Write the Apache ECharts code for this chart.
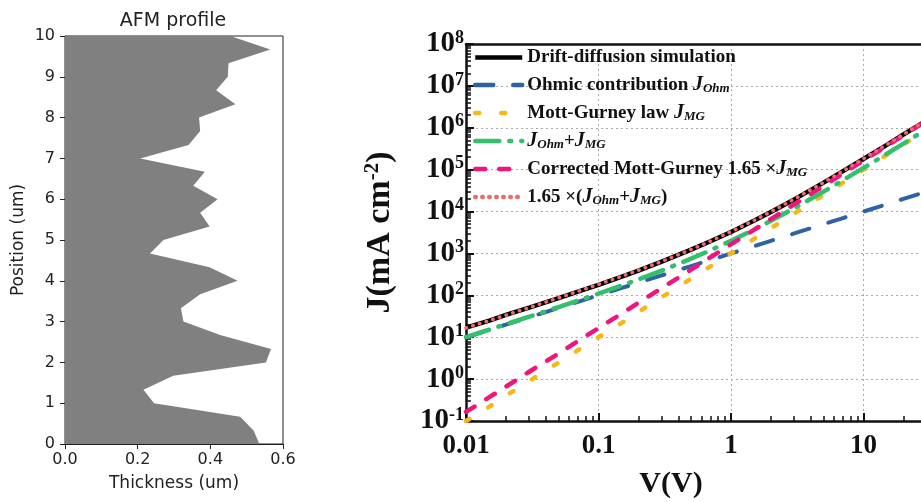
<!DOCTYPE html>
<html>
<head>
<meta charset="utf-8">
<script src="https://cdn.jsdelivr.net/npm/echarts@6/dist/echarts.min.js"></script>
<style>
  html, body { margin: 0; padding: 0; background: #fff; }
  #chart { width: 921px; height: 502px; }
</style>
</head>
<body>
<div id="chart"></div>
<script>
// AFM profile (left panel)
var position = [0, 0.33, 0.67, 1.0, 1.33, 1.67, 2.0, 2.33, 2.67, 3.0, 3.33, 3.67, 4.0, 4.33, 4.67, 5.0,
                5.33, 5.67, 6.0, 6.33, 6.67, 7.0, 7.33, 7.67, 8.0, 8.33, 8.67, 9.0, 9.33, 9.67, 10];
var thickness = [0.535, 0.519, 0.482, 0.245, 0.216, 0.298, 0.553, 0.567, 0.427, 0.326, 0.319, 0.372, 0.475, 0.398, 0.234, 0.271,
                 0.398, 0.372, 0.42, 0.353, 0.385, 0.207, 0.34, 0.372, 0.369, 0.469, 0.416, 0.448, 0.45, 0.565, 0.455];

// J-V curves (right panel)
var voltage = [0.01, 0.015, 0.02, 0.03, 0.05, 0.07, 0.1, 0.15, 0.2, 0.3, 0.5, 0.7, 1, 1.5, 2, 3, 5, 7, 10, 15, 20, 30, 50, 100];
var jDrift = [17, 25, 34, 51, 86, 122, 178, 280, 390, 640, 1230, 1950, 3250, 6100, 9800, 19500, 49000, 92000, 180000, 390000, 690000, 1500000, 4100000, 16500000];
var jOhm = [10, 15, 20, 30, 50, 70, 100, 150, 200, 300, 500, 700, 1000, 1500, 2000, 3000, 5000, 7000, 10000, 15000, 20000, 30000, 50000, 100000];
var jMG = [0.1, 0.22, 0.4, 0.9, 2.5, 4.9, 10, 22, 40, 90, 250, 490, 1000, 2250, 4000, 9000, 25000, 49000, 100000, 225000, 400000, 900000, 2500000, 10000000];
var jSum = [10.1, 15.2, 20.4, 30.9, 52.5, 75, 110, 172, 240, 390, 750, 1190, 2000, 3750, 6000, 12000, 30000, 56000, 110000, 240000, 420000, 930000, 2550000, 10100000];
var jMGc = [0.165, 0.37, 0.66, 1.5, 4.1, 8.1, 16.5, 37, 66, 149, 410, 810, 1650, 3700, 6600, 14900, 41000, 81000, 165000, 370000, 660000, 1490000, 4100000, 16500000];
var jSumc = [16.7, 25, 33.7, 51, 87, 124, 182, 285, 396, 644, 1240, 1960, 3300, 6190, 9900, 19800, 49500, 92400, 182000, 396000, 693000, 1530000, 4200000, 16700000];

var seriesNames = ['Drift-diffusion simulation', 'Ohmic contribution', 'Mott-Gurney law', 'JOhm+JMG',
                   'Corrected Mott-Gurney', '1.65 x (JOhm+JMG)'];
var legendText = {
  'Drift-diffusion simulation': '{b|Drift-diffusion simulation}',
  'Ohmic contribution': '{b|Ohmic contribution }{i|J}{s|Ohm}',
  'Mott-Gurney law': '{b|Mott-Gurney law }{i|J}{s|MG}',
  'JOhm+JMG': '{i|J}{s|Ohm}{b|+}{i|J}{s|MG}',
  'Corrected Mott-Gurney': '{b|Corrected Mott-Gurney 1.65 ×}{i|J}{s|MG}',
  '1.65 x (JOhm+JMG)': '{b|1.65 ×(}{i|J}{s|Ohm}{b|+}{i|J}{s|MG}{b|)}'
};

var serif = 'Liberation Serif';
var sans = 'DejaVu Sans';

function pairs(ys) {
  return voltage.map(function (v, i) { return [v, ys[i]]; });
}

// minor tick positions on log axes (in decade units)
function minorTicks(from, to) {
  var out = [];
  for (var d = from; d < to; d++) {
    for (var k = 2; k <= 9; k++) out.push(d + Math.log10(k));
  }
  return out;
}

var chart = echarts.init(document.getElementById('chart'), null, { renderer: 'canvas' });

var option = {
  animation: false,
  backgroundColor: '#fff',
  graphic: [
    { type: 'text', x: 173, y: 21, style: { text: 'AFM profile', font: '19px "DejaVu Sans"', fill: '#222', align: 'center', verticalAlign: 'middle' } },
    { type: 'text', x: 671, y: 484, style: { text: 'V(V)', font: 'bold 30px "Liberation Serif"', fill: '#111', align: 'center', verticalAlign: 'middle' } }
  ],
  legend: {
    orient: 'vertical',
    left: 473,
    top: 48,
    padding: 0,
    itemWidth: 47,
    itemHeight: 22,
    itemGap: 8,
    data: seriesNames,
    itemStyle: { opacity: 0 },
    lineStyle: { width: 4.5 },
    formatter: function (name) { return legendText[name]; },
    textStyle: {
      rich: {
        b: { fontFamily: serif, fontWeight: 'bold', fontSize: 19, lineHeight: 20, color: '#111' },
        i: { fontFamily: serif, fontWeight: 'bold', fontStyle: 'italic', fontSize: 20, lineHeight: 20, color: '#111' },
        s: { fontFamily: serif, fontWeight: 'bold', fontStyle: 'italic', fontSize: 13, lineHeight: 11, verticalAlign: 'bottom', color: '#111' }
      }
    }
  },
  grid: [
    { left: 65, top: 36, width: 218, height: 408, show: true, borderColor: '#222', borderWidth: 1, outerBoundsMode: 'none', containLabel: false },
    { left: 466, top: 44, width: 530, height: 377, outerBoundsMode: 'none', containLabel: false },
    { left: 466, top: 44, width: 530, height: 377, outerBoundsMode: 'none', containLabel: false }
  ],
  xAxis: [
    {
      gridIndex: 0, type: 'value', min: 0, max: 0.6, interval: 0.2,
      name: 'Thickness (um)', nameLocation: 'middle', nameGap: 31,
      nameTextStyle: { fontFamily: sans, fontSize: 17, color: '#222' },
      axisLine: { lineStyle: { color: '#222', width: 1 } },
      axisTick: { length: 5, lineStyle: { color: '#222' } },
      axisLabel: { fontFamily: sans, fontSize: 16, color: '#222', margin: 8,
        formatter: function (v) { return v.toFixed(1); } },
      splitLine: { show: false }
    },
    {
      gridIndex: 1, type: 'log', logBase: 10, min: 0.01, max: 100, interval: 1,
      axisLine: { onZero: false, lineStyle: { color: '#111', width: 2.5 } },
      axisTick: { inside: true, length: 8, lineStyle: { color: '#111', width: 2 } },
      axisLabel: { fontFamily: serif, fontWeight: 'bold', fontSize: 27, color: '#111', margin: 12,
        formatter: function (v) { return v >= 1 ? String(Math.round(v)) : String(+v.toPrecision(1)); } },
      splitLine: { show: true, lineStyle: { color: '#aaa', type: [2, 3], width: 1 } }
    },
    {
      gridIndex: 1, type: 'value', position: 'top', min: 0, max: 1,
      axisLine: { onZero: false, lineStyle: { color: '#111', width: 2.5 } },
      axisTick: { show: false }, axisLabel: { show: false }, splitLine: { show: false }
    },
    {
      gridIndex: 2, type: 'value', min: -2, max: 2, position: 'bottom',
      axisLine: { show: false, onZero: false },
      axisTick: { show: true, inside: true, length: 5, customValues: minorTicks(-2, 2), lineStyle: { color: '#111', width: 1.5 } },
      axisLabel: { show: false }, splitLine: { show: false }
    }
  ],
  yAxis: [
    {
      gridIndex: 0, type: 'value', min: 0, max: 10, interval: 1,
      name: 'Position (um)', nameLocation: 'middle', nameGap: 38,
      nameTextStyle: { fontFamily: sans, fontSize: 17, color: '#222' },
      axisLine: { lineStyle: { color: '#222', width: 1 } },
      axisTick: { length: 5, lineStyle: { color: '#222' } },
      axisLabel: { fontFamily: sans, fontSize: 16, color: '#222', margin: 10 },
      splitLine: { show: false }
    },
    {
      gridIndex: 1, type: 'log', logBase: 10, min: 0.1, max: 100000000, interval: 1,
      name: '{b|J(mA cm}{s|-2}{b|)}', nameLocation: 'middle', nameGap: 68,
      nameTextStyle: {
        rich: {
          b: { fontFamily: serif, fontWeight: 'bold', fontSize: 34, lineHeight: 36, color: '#111' },
          s: { fontFamily: serif, fontWeight: 'bold', fontSize: 21, lineHeight: 20, verticalAlign: 'top', color: '#111' }
        }
      },
      axisLine: { onZero: false, lineStyle: { color: '#111', width: 2.5 } },
      axisTick: { inside: true, length: 8, lineStyle: { color: '#111', width: 2 } },
      axisLabel: {
        margin: 2,
        formatter: function (v) { return '{b|10}{s|' + Math.round(Math.log10(v)) + '}'; },
        rich: {
          b: { fontFamily: serif, fontWeight: 'bold', fontSize: 29, lineHeight: 30, color: '#111' },
          s: { fontFamily: serif, fontWeight: 'bold', fontSize: 18, lineHeight: 18, verticalAlign: 'top', color: '#111' }
        }
      },
      splitLine: { show: true, lineStyle: { color: '#aaa', type: [2, 3], width: 1 } }
    },
    {
      gridIndex: 2, type: 'value', min: -1, max: 8,
      axisLine: { show: false, onZero: false },
      axisTick: { show: true, inside: true, length: 5, customValues: minorTicks(-1, 8), lineStyle: { color: '#111', width: 1.5 } },
      axisLabel: { show: false }, splitLine: { show: false }
    }
  ],
  series: [
    {
      type: 'custom', xAxisIndex: 0, yAxisIndex: 0, z: 1,
      data: position.map(function (p, i) { return [thickness[i], p]; }),
      renderItem: function (params, api) {
        if (params.dataIndex !== 0) return null;
        var pts = [api.coord([0, position[0]])];
        for (var i = 0; i < position.length; i++) pts.push(api.coord([thickness[i], position[i]]));
        pts.push(api.coord([0, position[position.length - 1]]));
        return { type: 'polygon', shape: { points: pts }, style: { fill: '#808080' } };
      }
    },
    {
      name: seriesNames[0], type: 'line', xAxisIndex: 1, yAxisIndex: 1, symbol: 'none', z: 2,
      data: pairs(jDrift), color: '#000',
      lineStyle: { color: '#000', width: 4.5 }
    },
    {
      name: seriesNames[1], type: 'line', xAxisIndex: 1, yAxisIndex: 1, symbol: 'none', z: 3,
      data: pairs(jOhm), color: '#2f62a3',
      lineStyle: { color: '#2f62a3', width: 4, type: [18, 20], cap: 'round' }
    },
    {
      name: seriesNames[2], type: 'line', xAxisIndex: 1, yAxisIndex: 1, symbol: 'none', z: 4,
      data: pairs(jMG), color: '#f3b81a',
      lineStyle: { color: '#f3b81a', width: 4.5, type: [4, 22], cap: 'round' }
    },
    {
      name: seriesNames[3], type: 'line', xAxisIndex: 1, yAxisIndex: 1, symbol: 'none', z: 5,
      data: pairs(jSum), color: '#34bf6d',
      lineStyle: { color: '#34bf6d', width: 4.5, type: [24, 10, 2, 10], cap: 'round' }
    },
    {
      name: seriesNames[4], type: 'line', xAxisIndex: 1, yAxisIndex: 1, symbol: 'none', z: 6,
      data: pairs(jMGc), color: '#f0157c',
      lineStyle: { color: '#f0157c', width: 4.5, type: [10, 14], cap: 'round' }
    },
    {
      name: seriesNames[5], type: 'line', xAxisIndex: 1, yAxisIndex: 1, symbol: 'none', z: 7,
      data: pairs(jSumc), color: '#ef6b6b',
      lineStyle: { color: '#ef6b6b', width: 3.5, type: [0.5, 6.5], cap: 'round' }
    }
  ]
};

chart.setOption(option);
</script>
</body>
</html>
